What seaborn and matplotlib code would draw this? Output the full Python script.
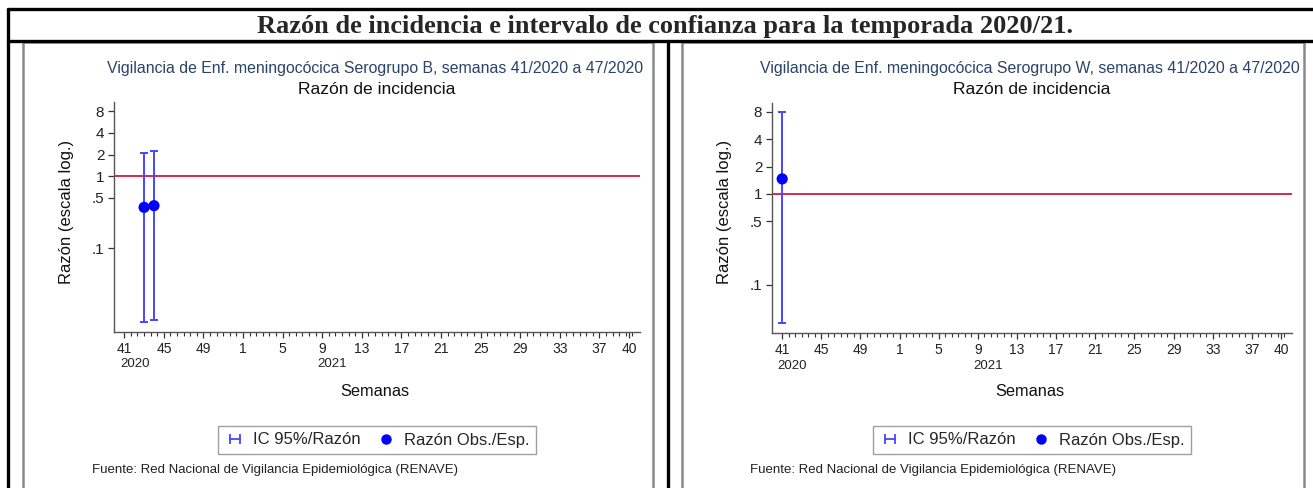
import numpy as np
import seaborn as sns
import matplotlib.pyplot as plt
from matplotlib.lines import Line2D
from matplotlib.patches import Rectangle
from matplotlib.legend_handler import HandlerLine2D
from matplotlib.transforms import blended_transform_factory


# season weeks: 41/2020 .. 52/2020, 1/2021 .. 40/2021
season_weeks = list(range(41, 53)) + list(range(1, 41))
tick_weeks = [41, 45, 49, 1, 5, 9, 13, 17, 21, 25, 29, 33, 37, 40]
year_labels = {41: "2020", 9: "2021"}

y_ticks = [0.1, 0.5, 1, 2, 4, 8]
y_tick_labels = [".1", ".5", "1", "2", "4", "8"]

# Serogroup B
b_weeks = [43, 44]
b_ratio = [0.37, 0.39]
b_low = [0.0095, 0.0100]
b_high = [2.13, 2.22]

# Serogroup W
w_weeks = [41]
w_ratio = [1.46]
w_low = [0.0375]
w_high = [8.05]

panels = [
    ("B", b_weeks, b_ratio, b_low, b_high, (0.0069, 10.7)),
    ("W", w_weeks, w_ratio, w_low, w_high, (0.029, 10.1)),
]

fig_title = "Razón de incidencia e intervalo de confianza para la temporada 2020/21."
sub_title = "Vigilancia de Enf. meningocócica Serogrupo {}, semanas 41/2020 a 47/2020"
main_title = "Razón de incidencia"
y_label = "Razón (escala log.)"
x_label = "Semanas"
legend_labels = ["IC 95%/Razón", "Razón Obs./Esp."]
source = "Fuente: Red Nacional de Vigilancia Epidemiológica (RENAVE)"

sns.set_theme(style="white")
plt.rcParams["font.family"] = ["Liberation Sans", "DejaVu Sans"]

W, H = 1313, 488
fig = plt.figure(figsize=(W / 100, H / 100), dpi=100)


def fx(x):
    return x / W


def fy(y):
    return 1 - y / H


# table lines and picture frames
blk = dict(color="black", lw=2.4, transform=fig.transFigure)
fig.add_artist(Line2D([fx(8), 1], [fy(9), fy(9)], **blk))
fig.add_artist(Line2D([fx(8), 1], [fy(41), fy(41)], **blk))
fig.add_artist(Line2D([fx(8), fx(8)], [fy(9), 0], **blk))
fig.add_artist(Line2D([fx(667.5), fx(667.5)], [fy(41), 0], **blk))
for x0, x1 in [(23, 653), (682, 1304)]:
    fig.add_artist(Rectangle((fx(x0), -0.05), fx(x1 - x0), fy(42.5) + 0.05,
                             transform=fig.transFigure, fill=False,
                             ec="#8a8a8a", lw=1.8))

fig.text(fx(665), fy(26), fig_title, ha="center", va="center",
         family="Liberation Serif", weight="bold", fontsize=19)

axes_px = [(114, 640, 102, 332), (772, 1292, 102.7, 333.3)]
tick_idx = [season_weeks.index(w) for w in tick_weeks]
blue_bar = "#4646ff"
blue_dot = "#0000ff"
red = "#d2184a"

for (grp, weeks, ratio, low, high, ylim), (x0, x1, y0, y1) in zip(panels, axes_px):
    ax = fig.add_axes([fx(x0), fy(y1), fx(x1 - x0), fy(y0) - fy(y1)])
    idx = np.array([season_weeks.index(w) for w in weeks])
    ratio = np.array(ratio)
    err = np.vstack([ratio - np.array(low), np.array(high) - ratio])

    ax.axhline(1, color=red, lw=1.3, zorder=1)
    ax.errorbar(idx, ratio, yerr=err, fmt="none", ecolor=blue_bar,
                elinewidth=1.4, capsize=3, capthick=1.4, zorder=2)
    sns.scatterplot(x=idx, y=ratio, ax=ax, color=blue_dot, s=65,
                    edgecolor="none", zorder=3, legend=False)

    ax.set_yscale("log")
    ax.set_ylim(*ylim)
    ax.set_xlim(-1.04, 52.1)
    ax.set_yticks(y_ticks)
    ax.set_yticklabels(y_tick_labels)
    ax.minorticks_off()
    ax.set_xticks(tick_idx)
    ax.set_xticklabels([str(w) for w in tick_weeks])
    ax.set_xticks(np.arange(0, 51.5, 2 / 3), minor=True)
    ax.tick_params(axis="both", which="major", direction="out", length=4,
                   width=0.9, color="#333333", labelsize=10, pad=3,
                   labelcolor="#222222")
    ax.tick_params(axis="y", labelsize=11)
    ax.tick_params(axis="x", which="minor", direction="out", length=3,
                   width=0.8, color="#333333")
    ax.xaxis.set_ticks_position("bottom")
    ax.yaxis.set_ticks_position("left")
    for s in ["top", "right"]:
        ax.spines[s].set_visible(False)
    for s in ["left", "bottom"]:
        ax.spines[s].set_color("#555555")
        ax.spines[s].set_linewidth(1.0)

    trans = blended_transform_factory(ax.transData, ax.transAxes)
    for w, lab in year_labels.items():
        ax.text(season_weeks.index(w) - 0.45, -0.14, lab, transform=trans,
                ha="left", va="center", fontsize=9.5, color="#222222")

    cx = fx((x0 + x1) / 2)
    fig.text(cx - fx(2), fy(68), sub_title.format(grp), ha="center", va="center",
             fontsize=11.4, color="#2b4468")
    fig.text(cx, fy(89), main_title, ha="center", va="center",
             fontsize=12.6, color="#111111")
    fig.text(fx(x0 - 47), fy(212), y_label, ha="center", va="center",
             rotation=90, fontsize=12, color="#111111")
    fig.text(cx - fx(2), fy(392), x_label, ha="center", va="center",
             fontsize=11.8, color="#111111")
    fig.text(fx(x0 - 22), fy(470), source, ha="left", va="center",
             fontsize=9.5, color="#222222")

    h_ci = Line2D([], [], color=blue_bar, lw=1.3, marker="|", markersize=7,
                  markeredgewidth=1.3)
    h_pt = Line2D([], [], color=blue_dot, lw=0, marker="o", markersize=6.5)
    fig.legend([h_ci, h_pt], legend_labels, loc="center",
               bbox_to_anchor=(cx, fy(440)), ncol=2, frameon=True,
               fancybox=False, edgecolor="#888888", fontsize=12,
               handlelength=1.2, handletextpad=0.5, columnspacing=0.9,
               borderpad=0.4,
               handler_map={h_ci: HandlerLine2D(numpoints=2),
                            h_pt: HandlerLine2D(numpoints=1)})

fig.savefig("out.png", dpi=100)
